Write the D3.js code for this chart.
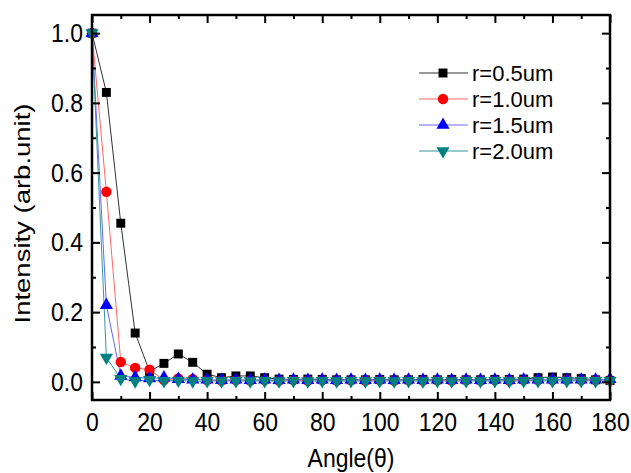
<!DOCTYPE html>
<html>
<head>
<meta charset="utf-8">
<script src="https://cdn.jsdelivr.net/npm/d3@7"></script>
<style>
  body { margin: 0; background: #fff; }
  text { font-family: "Liberation Sans", Arial, sans-serif; }
</style>
</head>
<body>
<svg id="chart" width="631" height="473"></svg>
<script>
const angles = d3.range(0, 181, 5);
const r05 = [1.0, 0.83, 0.455, 0.14, 0.03, 0.053, 0.08, 0.056, 0.022, 0.012, 0.017, 0.017, 0.012,
  0.008, 0.007, 0.008, 0.007, 0.006, 0.006, 0.006, 0.007, 0.006, 0.006, 0.007, 0.006, 0.007,
  0.006, 0.006, 0.007, 0.007, 0.008, 0.012, 0.014, 0.012, 0.01, 0.006, 0.004];
const r10 = [1.0, 0.545, 0.057, 0.04, 0.035, 0.005, 0.01, 0.008, 0.005, 0.004, 0.005, 0.004, 0.005,
  0.004, 0.005, 0.004, 0.005, 0.004, 0.005, 0.004, 0.005, 0.004, 0.005, 0.004, 0.005, 0.004,
  0.005, 0.004, 0.005, 0.004, 0.005, 0.005, 0.005, 0.006, 0.005, 0.005, 0.005];
const r15 = [1.0, 0.22, 0.017, 0.013, 0.01, 0.012, 0.008, 0.006, 0.006, 0.005, 0.006, 0.005, 0.006,
  0.005, 0.006, 0.005, 0.006, 0.005, 0.006, 0.005, 0.006, 0.005, 0.006, 0.005, 0.006, 0.005,
  0.006, 0.005, 0.006, 0.005, 0.006, 0.006, 0.006, 0.006, 0.006, 0.006, 0.008];
const r20 = [1.0, 0.07, 0.009, 0.002, 0.006, 0.003, 0.004, 0.002, 0.003, 0.002, 0.003, 0.002, 0.003,
  0.002, 0.003, 0.002, 0.003, 0.002, 0.003, 0.002, 0.003, 0.002, 0.003, 0.002, 0.003, 0.002,
  0.003, 0.002, 0.003, 0.002, 0.003, 0.003, 0.003, 0.003, 0.003, 0.003, 0.003];
const seriesNames = ["r=0.5um", "r=1.0um", "r=1.5um", "r=2.0um"];
const xTickLabels = [0, 20, 40, 60, 80, 100, 120, 140, 160, 180];
const yTickLabels = [0.0, 0.2, 0.4, 0.6, 0.8, 1.0];

const series = [
  { name: seriesNames[0], values: r05, color: "#000000", line: "#333333", symbol: d3.symbolSquare, size: 80, rot: 0 },
  { name: seriesNames[1], values: r10, color: "#ff0000", line: "#ff6666", symbol: d3.symbolCircle, size: 85, rot: 0 },
  { name: seriesNames[2], values: r15, color: "#0000ff", line: "#6666ff", symbol: d3.symbolTriangle, size: 75, rot: 0 },
  { name: seriesNames[3], values: r20, color: "#008080", line: "#339999", symbol: d3.symbolTriangle, size: 75, rot: 180 }
];

const L = 92, R = 610, T = 15, B = 400;
const svg = d3.select("#chart");
const x = d3.scaleLinear().domain([0, 180]).range([L, R]);
const y = d3.scaleLinear().domain([-0.052, 1.052]).range([B, T]);

const xMinor = d3.range(10, 180, 20);
const yMinor = [0.1, 0.3, 0.5, 0.7, 0.9];
const stretch = 1.15;

// data
const plot = svg.append("g");
const line = d3.line().x((d, i) => x(angles[i])).y(d => y(d));
series.forEach(s => {
  plot.append("path").datum(s.values)
    .attr("d", line).attr("fill", "none")
    .attr("stroke", s.line).attr("stroke-width", 1);
});
series.forEach(s => {
  plot.append("g").selectAll("path").data(s.values).join("path")
    .attr("d", d3.symbol().type(s.symbol).size(s.size))
    .attr("transform", (d, i) => `translate(${x(angles[i])},${y(d)}) rotate(${s.rot})`)
    .attr("fill", s.color);
});

// axes
function styleAxis(g) {
  g.select(".domain").remove();
  g.selectAll(".tick line").attr("stroke", "#000").attr("stroke-width", 2);
  g.selectAll("text").attr("font-size", 23).attr("fill", "#000")
    .attr("transform", `scale(1,${stretch})`);
}
svg.append("g").attr("transform", `translate(0,${B})`)
  .call(d3.axisBottom(x).tickValues(xTickLabels).tickSize(-8).tickPadding(11).tickFormat(d3.format("d")))
  .call(styleAxis);
svg.append("g").attr("transform", `translate(0,${B})`)
  .call(d3.axisBottom(x).tickValues(xMinor).tickSize(-4).tickFormat(""))
  .call(styleAxis);
svg.append("g").attr("transform", `translate(0,${T})`)
  .call(d3.axisTop(x).tickValues(xTickLabels).tickSize(-8).tickFormat(""))
  .call(styleAxis);
svg.append("g").attr("transform", `translate(0,${T})`)
  .call(d3.axisTop(x).tickValues(xMinor).tickSize(-4).tickFormat(""))
  .call(styleAxis);
svg.append("g").attr("transform", `translate(${L},0)`)
  .call(d3.axisLeft(y).tickValues(yTickLabels).tickSize(-8).tickPadding(9).tickFormat(d3.format(".1f")))
  .call(styleAxis);
svg.append("g").attr("transform", `translate(${L},0)`)
  .call(d3.axisLeft(y).tickValues(yMinor).tickSize(-4).tickFormat(""))
  .call(styleAxis);
svg.append("g").attr("transform", `translate(${R},0)`)
  .call(d3.axisRight(y).tickValues(yTickLabels).tickSize(-8).tickFormat(""))
  .call(styleAxis);
svg.append("g").attr("transform", `translate(${R},0)`)
  .call(d3.axisRight(y).tickValues(yMinor).tickSize(-4).tickFormat(""))
  .call(styleAxis);

svg.append("rect").attr("x", L).attr("y", T).attr("width", R - L).attr("height", B - T)
  .attr("fill", "none").attr("stroke", "#000").attr("stroke-width", 2.5);

// titles
svg.append("text").attr("transform", `translate(${(L + R) / 2},467) scale(1,${stretch})`)
  .attr("text-anchor", "middle").attr("font-size", 23).text("Angle(θ)");
svg.append("text").attr("transform", `translate(30,${(y(0) + y(1)) / 2 + 6}) rotate(-90) scale(1.25,1)`)
  .attr("text-anchor", "middle").attr("font-size", 22).text("Intensity (arb.unit)");

// legend
const leg = svg.append("g");
series.forEach((s, i) => {
  const ly = 73 + i * 26;
  leg.append("line").attr("x1", 419).attr("x2", 468).attr("y1", ly).attr("y2", ly)
    .attr("stroke", s.line).attr("stroke-width", 1);
  leg.append("path").attr("d", d3.symbol().type(s.symbol).size(s.size))
    .attr("transform", `translate(443,${ly}) rotate(${s.rot})`).attr("fill", s.color);
  leg.append("text").attr("x", 472).attr("y", ly + 8).attr("font-size", 22).text(s.name);
});
</script>
</body>
</html>
